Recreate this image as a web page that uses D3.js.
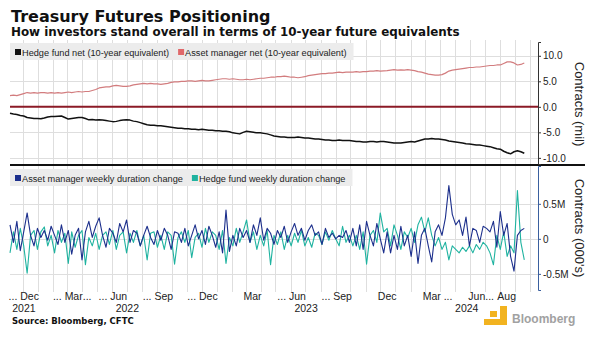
<!DOCTYPE html>
<html>
<head>
<meta charset="utf-8">
<script src="https://cdn.jsdelivr.net/npm/d3@7"></script>
<style>
body { margin: 0; background: #fff; }
svg { display: block; }
</style>
</head>
<body>
<svg id="chart"></svg>
<script>
// weekly CFTC readings, first one on this date
var firstWeek = new Date(2021, 10, 5);

// 10-year future equivalents, millions of contracts
var hedgeNet = [-1.25,-1.4,-1.5,-1.7,-1.8,-2.1,-2.2,-2.3,-2.3,-2.35,
  -2.2,-2.0,-1.9,-1.9,-1.85,-1.8,-2.1,-2.4,-2.3,-2.2,
  -2.1,-2.1,-2.3,-2.55,-2.5,-2.6,-2.55,-2.6,-2.7,-2.8,
  -2.9,-2.85,-2.7,-2.6,-2.55,-2.6,-2.8,-2.9,-3.1,-3.3,
  -3.5,-3.6,-3.6,-3.7,-3.7,-3.8,-3.9,-4.0,-4.1,-4.2,
  -4.2,-4.3,-4.3,-4.4,-4.4,-4.5,-4.4,-4.5,-4.6,-4.6,
  -4.7,-4.7,-4.8,-4.8,-4.9,-5.1,-5.2,-5.3,-5.0,-4.8,
  -4.9,-5.0,-5.1,-5.1,-5.2,-5.3,-5.5,-5.7,-5.8,-5.9,
  -5.9,-6.0,-6.0,-6.0,-5.9,-6.0,-6.1,-6.1,-6.2,-6.3,
  -6.3,-6.4,-6.5,-6.5,-6.6,-6.6,-6.5,-6.6,-6.6,-6.6,
  -6.7,-6.8,-6.8,-6.9,-6.9,-6.8,-6.8,-6.9,-6.8,-6.8,
  -6.9,-7.0,-7.1,-7.1,-7.1,-7.0,-6.9,-6.8,-6.9,-6.7,
  -6.5,-6.3,-6.3,-6.2,-6.3,-6.3,-6.4,-6.5,-6.7,-6.8,
  -6.9,-7.0,-7.1,-7.25,-7.3,-7.4,-7.5,-7.5,-7.6,-7.7,
  -7.8,-8.0,-8.2,-8.3,-8.7,-9.0,-9.2,-8.8,-8.6,-8.8,-9.1];

var assetNet = [2.2,2.3,2.2,2.4,2.6,2.8,2.7,2.8,2.7,2.8,
  2.8,2.7,2.8,2.7,2.8,2.7,2.8,2.9,2.8,2.9,
  3.0,2.9,3.0,3.0,3.2,3.4,3.7,3.8,3.9,3.9,
  4.1,4.2,4.1,4.0,4.0,4.1,4.3,4.4,4.5,4.6,
  4.5,4.6,4.5,4.5,4.4,4.5,4.6,4.8,4.9,4.9,
  5.0,5.0,5.1,5.1,5.0,5.1,5.2,5.1,5.1,5.2,
  5.3,5.4,5.5,5.5,5.4,5.5,5.4,5.3,5.3,5.4,
  5.3,5.4,5.5,5.6,5.6,5.7,5.8,5.8,5.9,5.9,
  6.0,5.9,5.8,5.8,5.7,5.8,5.9,6.1,6.2,6.3,
  6.4,6.5,6.5,6.6,6.6,6.7,6.8,6.7,6.8,6.8,
  6.8,6.9,6.8,6.9,6.9,7.0,7.0,7.1,7.0,7.05,
  7.1,7.2,7.3,7.2,7.25,7.2,7.3,7.2,7.1,6.9,
  6.8,6.6,6.4,6.3,6.2,6.2,6.3,6.6,7.0,7.2,
  7.3,7.4,7.5,7.6,7.7,7.7,7.8,7.8,7.9,8.0,
  8.1,8.1,8.2,8.2,8.5,8.8,8.8,8.6,8.2,8.3,8.6];

// weekly duration change, millions of contracts
var assetChg = [0.20,-0.05,0.25,-0.17,0.10,0.37,0.05,-0.10,0.15,0.02,
  0.12,-0.02,0.18,0.05,-0.08,0.20,-0.05,0.12,-0.22,0.05,
  0.15,-0.30,0.10,0.25,0.02,0.18,0.30,0.05,-0.12,0.15,
  0.08,-0.05,0.22,0.10,0.27,-0.05,0.12,0.08,-0.10,0.05,
  0.18,0.02,-0.08,0.12,-0.02,0.15,0.05,-0.15,0.10,0.08,
  -0.05,0.15,-0.10,0.05,0.20,0.00,0.12,-0.08,0.18,0.05,
  -0.12,0.10,-0.20,0.41,-0.18,0.05,-0.10,0.15,0.02,0.12,
  -0.05,0.20,0.05,0.30,-0.02,0.15,0.08,-0.08,0.12,0.02,
  0.18,-0.05,0.10,0.22,0.05,0.15,-0.02,0.12,0.20,0.05,
  0.10,-0.08,0.15,0.02,0.08,0.00,0.05,0.02,0.12,-0.05,
  0.15,-0.10,0.20,-0.15,0.25,0.05,-0.10,0.22,0.00,-0.20,
  0.10,-0.20,0.05,-0.15,0.18,-0.10,0.05,-0.25,0.10,-0.35,
  0.05,0.15,-0.10,-0.33,0.10,0.20,0.05,0.30,0.76,0.35,
  0.20,0.27,0.05,0.31,-0.10,0.15,0.12,-0.05,0.18,0.15,
  0.10,0.25,-0.12,0.39,0.05,0.22,-0.25,-0.46,0.05,0.12,0.15];

var hedgeChg = [-0.20,0.10,-0.15,0.15,-0.10,-0.49,0.05,0.12,-0.15,0.10,
  0.17,-0.10,0.05,-0.20,0.12,-0.05,0.08,-0.35,0.10,-0.12,
  0.05,0.12,-0.37,0.02,-0.10,0.08,-0.15,0.05,0.10,-0.08,
  0.12,-0.15,0.05,0.10,-0.20,0.08,-0.05,0.12,-0.10,0.05,
  -0.30,0.08,0.10,-0.12,0.05,-0.15,0.10,0.05,-0.36,0.02,
  0.10,-0.05,0.12,-0.27,0.02,0.08,-0.12,0.15,-0.05,0.10,
  0.05,-0.15,0.12,-0.35,0.02,-0.10,0.15,-0.05,0.10,0.27,
  -0.05,0.10,-0.15,0.05,-0.10,0.12,-0.37,0.05,-0.08,0.10,
  -0.15,0.05,-0.10,0.08,-0.05,0.12,-0.10,0.02,-0.12,0.08,
  0.05,-0.08,0.10,-0.02,0.12,0.00,-0.10,0.18,-0.05,0.05,
  -0.10,0.05,-0.15,0.10,-0.36,0.05,0.12,-0.05,0.37,0.10,
  0.15,-0.10,0.20,0.05,-0.15,0.10,0.02,0.15,-0.05,0.20,
  0.31,0.10,0.30,0.05,-0.10,0.02,-0.15,-0.05,-0.30,-0.10,
  -0.15,-0.20,-0.12,-0.18,-0.10,-0.20,-0.08,-0.15,-0.05,-0.10,
  -0.20,-0.37,0.05,-0.15,0.10,-0.25,-0.10,-0.20,0.69,-0.05,-0.30];

var topTicks = [10, 5, 0, -5, -10];
var bottomTicks = [0.5, 0, -0.5];
// year, month, text before, month word, text after
var monthTicks = [
  [2021, 11, "...\u00a0", "Dec", ""], [2022, 2, "...\u00a0", "Mar", "..."],
  [2022, 5, "...\u00a0", "Jun", ""], [2022, 8, "...\u00a0", "Sep", ""],
  [2022, 11, "...\u00a0", "Dec", ""], [2023, 2, "", "Mar", ""],
  [2023, 5, "...\u00a0", "Jun", ""], [2023, 8, "...\u00a0", "Sep", ""],
  [2023, 11, "", "Dec", ""], [2024, 2, "", "Mar", "\u00a0..."],
  [2024, 5, "", "Jun", "..."], [2024, 7, "", "Aug", ""]
];
var years = [2021, 2022, 2023, 2024];
var topLegend = [["Hedge fund net (10-year equivalent)", "#111"], ["Asset manager net (10-year equivalent)", "#e0686a"]];
var bottomLegend = [["Asset manager weekly duration change", "#1c2f8c"], ["Hedge fund weekly duration change", "#1fb3a0"]];

var sans = "'Liberation Sans', Arial, sans-serif";
var svg = d3.select("#chart").attr("width", 600).attr("height", 337)
  .style("font-family", sans);

var dates = hedgeNet.map(function(d, i) { return d3.timeDay.offset(firstWeek, 7 * i); });

var x = d3.scaleTime().domain([new Date(2021, 10, 5), new Date(2024, 9, 18)]).range([10, 538]);
var yTop = d3.scaleLinear().domain([-11.2, 12.7]).range([164, 42]);
var yBot = d3.scaleLinear().domain([-0.73, 1.04]).range([290, 166]);

// titles
svg.append("text").attr("x", 11).attr("y", 21.5)
  .style("font-family", "'DejaVu Sans'").style("font-weight", "bold").style("font-size", "16px")
  .attr("fill", "#111").text("Treasury Futures Positioning");
svg.append("text").attr("x", 11).attr("y", 36)
  .style("font-family", "'DejaVu Sans'").style("font-weight", "bold").style("font-size", "11.9px")
  .attr("fill", "#111").text("How investors stand overall in terms of 10-year future equivalents");

// month grid
svg.append("g").selectAll("line")
  .data(d3.timeMonth.range(x.domain()[0], x.domain()[1]))
  .enter().append("line")
  .attr("x1", function(d) { return Math.round(x(d)) + 0.5; })
  .attr("x2", function(d) { return Math.round(x(d)) + 0.5; })
  .attr("y1", 40).attr("y2", 292)
  .attr("stroke", "#dedede").attr("stroke-width", 1);

svg.append("g").selectAll("line")
  .data(topTicks.filter(function(d) { return d != 0; }))
  .enter().append("line")
  .attr("x1", 10).attr("x2", 538)
  .attr("y1", function(d) { return Math.round(yTop(d)) + 0.5; })
  .attr("y2", function(d) { return Math.round(yTop(d)) + 0.5; })
  .attr("stroke", "#dedede");

svg.append("g").selectAll("line")
  .data(bottomTicks)
  .enter().append("line")
  .attr("x1", 10).attr("x2", 538)
  .attr("y1", function(d) { return Math.round(yBot(d)) + 0.5; })
  .attr("y2", function(d) { return Math.round(yBot(d)) + 0.5; })
  .attr("stroke", "#dedede");

// zero line of the top panel
svg.append("line")
  .attr("x1", 10).attr("x2", 538)
  .attr("y1", yTop(0)).attr("y2", yTop(0))
  .attr("stroke", "#8b1a26").attr("stroke-width", 2);

// legends
function legend(items, top) {
  var g = svg.append("g");
  var bg = g.append("rect").attr("x", 10).attr("y", top).attr("height", 17).attr("fill", "#ececec");
  var cx = 15;
  items.forEach(function(it) {
    g.append("rect").attr("x", cx).attr("y", top + 6).attr("width", 6).attr("height", 6).attr("fill", it[1]);
    var t = g.append("text").attr("x", cx + 7).attr("y", top + 12.5)
      .style("font-size", "9.2px").attr("fill", "#222").text(it[0]);
    cx += 7 + t.node().getComputedTextLength() + 9;
  });
  bg.attr("width", cx - 12);
}
legend(topLegend, 43);
legend(bottomLegend, 169);

// lines
function drawLine(values, y, color, w) {
  var line = d3.line()
    .x(function(d, i) { return x(dates[i]); })
    .y(function(d) { return y(d); });
  svg.append("path").datum(values)
    .attr("d", line)
    .attr("fill", "none")
    .attr("stroke", color)
    .attr("stroke-width", w)
    .attr("stroke-linejoin", "round");
}
drawLine(assetNet, yTop, "#d27c7e", 1.2);
drawLine(hedgeNet, yTop, "#111", 1.5);
drawLine(hedgeChg, yBot, "#1fb3a0", 1.1);
drawLine(assetChg, yBot, "#1c2f8c", 1.1);

// panel divider
svg.append("line").attr("x1", 10).attr("x2", 585).attr("y1", 165).attr("y2", 165)
  .attr("stroke", "#111").attr("stroke-width", 2);

// right axes
var axTop = svg.append("g").attr("transform", "translate(538,0)")
  .call(d3.axisRight(yTop).tickValues(topTicks).tickSize(3).tickPadding(2)
    .tickFormat(function(d) { return d.toFixed(1); }));
axTop.select(".domain").attr("stroke", "#333");
axTop.selectAll(".tick line").attr("stroke", "#333");
axTop.selectAll("text").style("font-family", sans).style("font-size", "10px").attr("fill", "#222");

var axBot = svg.append("g").attr("transform", "translate(538,0)")
  .call(d3.axisRight(yBot).tickValues(bottomTicks).tickSize(3).tickPadding(2)
    .tickFormat(function(d) { return d == 0 ? "0" : d + "M"; }));
axBot.select(".domain").attr("stroke", "#3a5f9e");
axBot.selectAll(".tick line").attr("stroke", "#3a5f9e");
axBot.selectAll("text").style("font-family", sans).style("font-size", "10px").attr("fill", "#222");

svg.append("text").attr("transform", "translate(575,104) rotate(90)")
  .attr("text-anchor", "middle").style("font-size", "13px").attr("fill", "#222")
  .text("Contracts (mil)");
svg.append("text").attr("transform", "translate(575,228) rotate(90)")
  .attr("text-anchor", "middle").style("font-size", "13px").attr("fill", "#222")
  .text("Contracts (000's)");

// x labels
var xl = svg.append("g").style("font-size", "10.5px").attr("fill", "#222");
monthTicks.forEach(function(m) {
  var cx = x(new Date(m[0], m[1], 15));
  var word = xl.append("text").attr("x", cx).attr("y", 300).attr("text-anchor", "middle").text(m[3]);
  var half = word.node().getComputedTextLength() / 2;
  if (m[2]) xl.append("text").attr("x", cx - half).attr("y", 300).attr("text-anchor", "end").text(m[2]);
  if (m[4]) xl.append("text").attr("x", cx + half).attr("y", 300).text(m[4]);
});
years.forEach(function(yr) {
  var a = Math.max(x(new Date(yr, 0, 1)), x.range()[0]);
  var b = Math.min(x(new Date(yr + 1, 0, 1)), x.range()[1]);
  xl.append("text").attr("x", (a + b) / 2).attr("y", 312).attr("text-anchor", "middle").text(yr);
});

svg.append("text").attr("x", 12).attr("y", 324)
  .style("font-family", "'DejaVu Sans'").style("font-weight", "bold").style("font-size", "8.5px")
  .attr("fill", "#111").text("Source: Bloomberg, CFTC");

// watermark
var wm = svg.append("g");
wm.append("rect").attr("x", 490).attr("y", 311).attr("width", 7).attr("height", 6).attr("fill", "#f2b320");
wm.append("rect").attr("x", 500).attr("y", 306).attr("width", 7).attr("height", 19).attr("fill", "#f2b320");
wm.append("rect").attr("x", 484).attr("y", 319).attr("width", 23).attr("height", 6).attr("fill", "#f2b320");
wm.append("text").attr("x", 512).attr("y", 323).style("font-weight", "bold").style("font-size", "12px")
  .attr("fill", "#8a8a8a").attr("opacity", 0.8).text("Bloomberg");
</script>
</body>
</html>
